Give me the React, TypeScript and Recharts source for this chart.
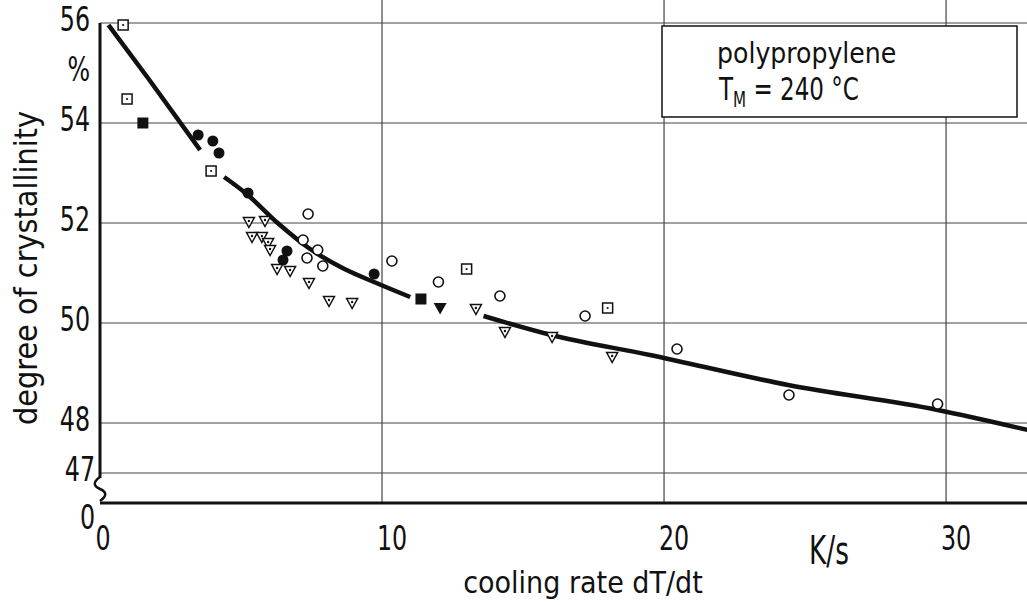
import { ComposedChart, Line, Scatter, XAxis, YAxis, ReferenceLine } from "recharts";

const FONT = "'DejaVu Sans Condensed', 'DejaVu Sans', sans-serif";
const INK = "#111";

const xTicks = [0, 10, 20, 30];
const yTicks = [46.4, 47, 48, 50, 52, 54, 55, 56];
const gridX = [10, 20, 30];
const gridY = [47, 48, 50, 52, 54, 56];

// fitted curve, drawn in three pieces with gaps between them
const curveA: [number, number][] = [[0.3, 55.96], [1.7, 54.9], [3.55, 53.46]];
const curveB: [number, number][] = [
  [4.4, 52.92], [5.2, 52.58], [6.3, 52.0], [7.45, 51.48], [8.6, 51.1], [9.8, 50.8], [11.0, 50.52],
];
const curveC: [number, number][] = [
  [13.6, 50.14], [16.0, 49.76], [19.5, 49.36], [24.4, 48.76], [29.7, 48.26], [32.9, 47.86],
];

const openSquares: [number, number][] = [
  [0.82, 55.96], [0.96, 54.48], [3.94, 53.04], [13.0, 51.08], [18.0, 50.3],
];
const filledSquares: [number, number][] = [[1.52, 54.0], [11.38, 50.48]];
const filledCircles: [number, number][] = [
  [3.48, 53.76], [4.0, 53.64], [4.22, 53.4], [5.25, 52.6], [6.63, 51.44], [6.49, 51.26], [9.72, 50.98],
];
const openCircles: [number, number][] = [
  [7.38, 52.18], [7.2, 51.66], [7.72, 51.46], [7.34, 51.3], [7.9, 51.14], [10.35, 51.24],
  [12.0, 50.82], [14.18, 50.54], [17.2, 50.14], [20.46, 49.48], [24.43, 48.56], [29.7, 48.38],
];
const triangles: [number, number][] = [
  [5.28, 52.02], [5.85, 52.04], [5.39, 51.72], [5.74, 51.72], [5.96, 51.6], [6.03, 51.46],
  [6.28, 51.08], [6.74, 51.04], [7.41, 50.8], [8.12, 50.44], [8.94, 50.4],
  [13.33, 50.28], [14.36, 49.82], [16.03, 49.72], [18.16, 49.32],
];
const filledTriangles: [number, number][] = [[12.06, 50.3]];

const pts = (a: [number, number][]) => a.map(([x, y]) => ({ x, y }));

function OpenSquare({ cx, cy }: any) {
  return (
    <g>
      <rect x={cx - 5} y={cy - 5} width={10} height={10} fill="#fff" stroke={INK} strokeWidth={1.5} />
      <circle cx={cx} cy={cy} r={1.1} fill={INK} />
    </g>
  );
}
function FilledSquare({ cx, cy }: any) {
  return <rect x={cx - 5.5} y={cy - 5.5} width={11} height={11} fill={INK} />;
}
function FilledCircle({ cx, cy }: any) {
  return <circle cx={cx} cy={cy} r={5.5} fill={INK} />;
}
function OpenCircle({ cx, cy }: any) {
  return <circle cx={cx} cy={cy} r={5} fill="#fff" stroke={INK} strokeWidth={1.6} />;
}
function Triangle({ cx, cy }: any) {
  return (
    <g>
      <path d={`M${cx - 5.5},${cy - 4.5} L${cx + 5.5},${cy - 4.5} L${cx},${cy + 5.5} Z`} fill="#fff" stroke={INK} strokeWidth={1.5} />
      <circle cx={cx} cy={cy - 1} r={1.2} fill={INK} />
    </g>
  );
}
function FilledTriangle({ cx, cy }: any) {
  return <path d={`M${cx - 6.5},${cy - 5} L${cx + 6.5},${cy - 5} L${cx},${cy + 6.5} Z`} fill={INK} />;
}

// tall, narrow lettering like the stencilled original
function YTick({ x, y, payload }: any) {
  const v = payload.value;
  const label = v === 46.4 ? "0" : v === 55 ? "%" : String(v);
  const tx = x + (v < 47.5 ? 5 : 0);
  const ty = y + (v === 46.4 ? 14 : -4);
  return (
    <text
      transform={`translate(${tx},${ty}) scale(0.8,1)`}
      dy="0.36em"
      textAnchor="end"
      fontSize={33}
      fontFamily={FONT}
      fill={INK}
    >
      {label}
    </text>
  );
}

function XTick({ x, y, payload }: any) {
  const v = payload.value;
  const tx = x + (v === 0 ? 3 : 10);
  return (
    <text
      transform={`translate(${tx},${y}) scale(0.8,1)`}
      dy="0.71em"
      textAnchor="middle"
      fontSize={33}
      fontFamily={FONT}
      fill={INK}
    >
      {String(v)}
    </text>
  );
}

export default function App() {
  return (
    <div style={{ position: "absolute", left: 0, top: 0, width: 1027, height: 605, background: "#fff" }}>
      <ComposedChart width={1027} height={605} margin={{ top: 0, right: 0, bottom: 0, left: 0 }}>
        <XAxis
          type="number"
          dataKey="x"
          domain={[0, 32.87]}
          ticks={xTicks}
          allowDataOverflow
          height={102}
          tickSize={0}
          tickLine={false}
          tickMargin={24}
          axisLine={{ stroke: INK, strokeWidth: 3 }}
          tick={<XTick />}
        />
        <YAxis
          type="number"
          dataKey="y"
          domain={[46.4, 56.46]}
          ticks={yTicks}
          allowDataOverflow
          width={100}
          tickSize={0}
          tickLine={false}
          tickMargin={10}
          axisLine={false}
          tick={<YTick />}
        />
        {gridY.map((v) => (
          <ReferenceLine key={`gy${v}`} y={v} stroke="#444" strokeWidth={1.2} />
        ))}
        {gridX.map((v) => (
          <ReferenceLine key={`gx${v}`} x={v} stroke="#444" strokeWidth={1.2} />
        ))}
        <ReferenceLine segment={[{ x: 0, y: 56 }, { x: 0, y: 46.9 }]} stroke={INK} strokeWidth={3} />

        <Scatter data={pts(openSquares)} dataKey="y" shape={<OpenSquare />} isAnimationActive={false} />
        <Scatter data={pts(filledSquares)} dataKey="y" shape={<FilledSquare />} isAnimationActive={false} />
        <Scatter data={pts(filledCircles)} dataKey="y" shape={<FilledCircle />} isAnimationActive={false} />
        <Scatter data={pts(openCircles)} dataKey="y" shape={<OpenCircle />} isAnimationActive={false} />
        <Scatter data={pts(triangles)} dataKey="y" shape={<Triangle />} isAnimationActive={false} />
        <Scatter data={pts(filledTriangles)} dataKey="y" shape={<FilledTriangle />} isAnimationActive={false} />

        {[curveA, curveB, curveC].map((seg, i) => (
          <Line
            key={`c${i}`}
            data={pts(seg)}
            dataKey="y"
            type="monotone"
            stroke={INK}
            strokeWidth={4.5}
            dot={false}
            activeDot={false}
            isAnimationActive={false}
          />
        ))}
      </ComposedChart>

      <svg width={1027} height={605} style={{ position: "absolute", left: 0, top: 0, pointerEvents: "none" }}>
        {/* axis break */}
        <path d="M100,477 C93,482 93,486 100,489 C107,492 107,496 100,501" fill="none" stroke={INK} strokeWidth={2.5} />
        {/* annotation box */}
        <rect x={662} y={26} width={355} height={91} fill="#fff" stroke={INK} strokeWidth={1.5} />
        <text x={717} y={63} fontSize={28} fontFamily={FONT} fill={INK}>polypropylene</text>
        <text transform="translate(719,100) scale(0.8,1)" fontSize={32} fontFamily={FONT} fill={INK}>
          T<tspan fontSize={21} dy={7}>M</tspan>
          <tspan dy={-7}> = 240 °C</tspan>
        </text>
        <text transform="translate(829,564) scale(0.75,1)" fontSize={39} textAnchor="middle" fontFamily={FONT} fill={INK}>K/s</text>
        <text x={583} y={593} fontSize={30} textAnchor="middle" fontFamily={FONT} fill={INK}>cooling rate dT/dt</text>
        <text transform="translate(37,268) rotate(-90)" fontSize={32} textAnchor="middle" fontFamily={FONT} fill={INK}>
          degree of crystallinity
        </text>
      </svg>
    </div>
  );
}
